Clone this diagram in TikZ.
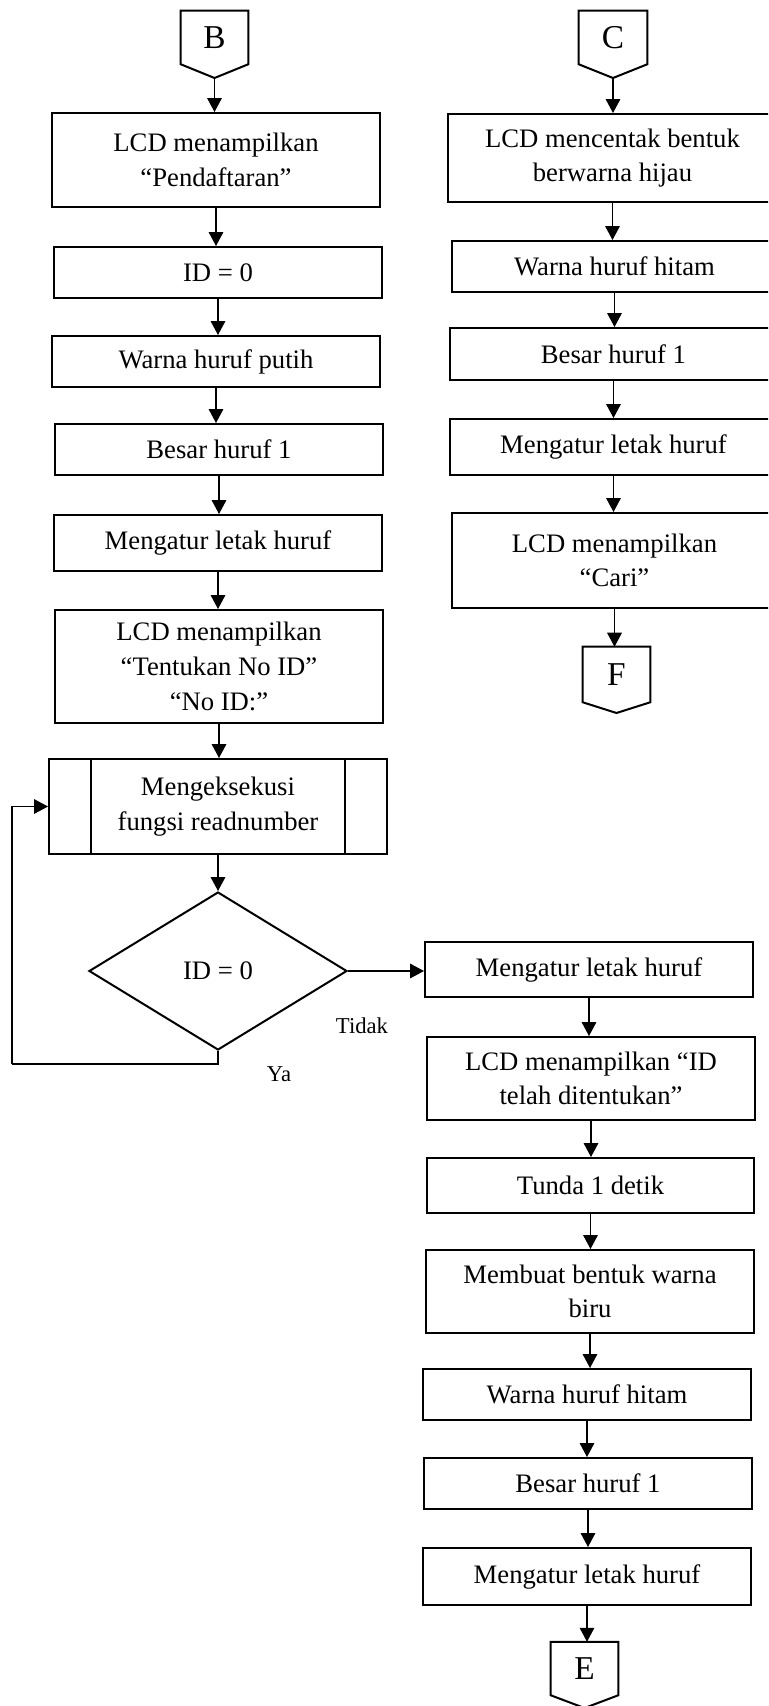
\documentclass[tikz,border=0pt]{standalone}
\usepackage{fontspec}
\setmainfont{Liberation Serif}
\usetikzlibrary{calc,shapes.geometric,arrows.meta}

\tikzset{
  every picture/.style={x=0.75pt,y=-0.75pt},
  sz/.style 2 args={minimum width=#1*0.75pt,minimum height=#2*0.75pt},
  proc/.style={draw,rectangle,line width=1.5pt,inner sep=0pt,align=center,
    font=\fontsize{20}{26}\selectfont},
  decision/.style={draw,diamond,line width=1.5pt,inner sep=0pt,
    minimum width=193.5pt,minimum height=118.5pt,
    font=\fontsize{20}{26}\selectfont},
  conntext/.style={rectangle,inner sep=0pt,font=\fontsize{25}{28}\selectfont},
  connline/.style={line width=1.5pt,line join=miter},
  flow/.style={line width=0.9pt,-{Triangle[length=10.5pt,width=11pt]}},
  loopline/.style={line width=0.8pt},
  lbl/.style={inner sep=0pt,anchor=base,font=\fontsize{17}{20}\selectfont},
}

\begin{document}
\begin{tikzpicture}
\useasboundingbox (0,0) rectangle (768,1706);
\clip (0,0) rectangle (768,1706);

% ---------- off-page connectors ----------
\node[conntext,sz={67}{53}] (B) at (214.5,37.5) {B};
\coordinate (Bp) at (214.5,78);
\draw[connline] (B.north west) -- (B.north east) -- (B.south east) -- (Bp) -- (B.south west) -- cycle;

\node[conntext,sz={68}{53}] (C) at (613,37.5) {C};
\coordinate (Cp) at (613,78);
\draw[connline] (C.north west) -- (C.north east) -- (C.south east) -- (Cp) -- (C.south west) -- cycle;

\node[conntext,sz={67}{55}] (F) at (616.5,674.5) {F};
\coordinate (Fp) at (616.5,713);
\draw[connline] (F.north west) -- (F.north east) -- (F.south east) -- (Fp) -- (F.south west) -- cycle;

\node[conntext,sz={67}{53}] (E) at (584.5,1668.5) {E};
\coordinate (Ep) at (584.5,1708);
\draw[connline] (E.north west) -- (E.north east) -- (E.south east) -- (Ep) -- (E.south west) -- cycle;

% ---------- left column ----------
\node[proc,sz={328}{94}]  (L1) at (216,160)   {LCD menampilkan\\“Pendaftaran”};
\node[proc,sz={328}{51}]  (L2) at (218,272.5) {ID = 0};
\node[proc,sz={328}{51}]  (L3) at (216,361.5) {Warna huruf putih};
\node[proc,sz={328}{51}]  (L4) at (219,449.5) {Besar huruf 1};
\node[proc,sz={328}{56}]  (L5) at (218,543)   {Mengatur letak huruf};
\node[proc,sz={328}{113}] (L6) at (219,666.5) {LCD menampilkan\\“Tentukan No ID”\\“No ID:”};
\node[proc,sz={338}{95}]  (P)  at (218,806.5) {Mengeksekusi\\fungsi readnumber};
\draw[line width=1.5pt] ($(P.north west)+(43,0)$) -- ($(P.south west)+(43,0)$);
\draw[line width=1.5pt] ($(P.north east)+(-43,0)$) -- ($(P.south east)+(-43,0)$);
\node[decision] (D) at (218,971) {ID = 0};

% ---------- right column, top ----------
\node[proc,sz={329}{88}] (C1) at (612.5,158)   {LCD mencentak bentuk\\berwarna hijau};
\node[proc,sz={325}{51}] (C2) at (614.5,266.5) {Warna huruf hitam};
\node[proc,sz={327}{52}] (C3) at (613.5,354)   {Besar huruf 1};
\node[proc,sz={327}{56}] (C4) at (613.5,447)   {Mengatur letak huruf};
\node[proc,sz={325}{95}] (C5) at (614.5,560.5) {LCD menampilkan\\“Cari”};

% ---------- right column, bottom ----------
\node[proc,sz={328}{55}] (R1) at (589,969.5)  {Mengatur letak huruf};
\node[proc,sz={328}{83}] (R2) at (591,1078.5) {LCD menampilkan “ID\\telah ditentukan”};
\node[proc,sz={327}{55}] (R3) at (590.5,1185.5) {Tunda 1 detik};
\node[proc,sz={328}{83}] (R4) at (590,1291.5) {Membuat bentuk warna\\biru};
\node[proc,sz={328}{51}] (R5) at (587,1394.5) {Warna huruf hitam};
\node[proc,sz={328}{51}] (R6) at (588,1483.5) {Besar huruf 1};
\node[proc,sz={328}{57}] (R7) at (587,1576.5) {Mengatur letak huruf};

% ---------- flow arrows ----------
\draw[flow] (Bp) -- (Bp |- L1.north);
\foreach \a/\b in {L1/L2,L2/L3,L3/L4,L4/L5,L5/L6,L6/P,P/D,
                   C1/C2,C2/C3,C3/C4,C4/C5,
                   R1/R2,R2/R3,R3/R4,R4/R5,R5/R6,R6/R7}
  \draw[flow] (\a.south) -- (\a.south |- \b.north);
\draw[flow] (Cp) -- (Cp |- C1.north);
\draw[flow] (C5.south) -- (C5.south |- F.north);
\draw[flow] (R7.south) -- (R7.south |- E.north);

% decision branches
\draw[flow] (D.east) -- (D.east -| R1.west);
\coordinate (loopA) at (218,1064);
\coordinate (loopB) at (12,1064);
\draw[loopline] (D.south) -- (loopA) -- (loopB);
\draw[loopline,-{Triangle[length=10.5pt,width=11pt]}] (loopB) -- (loopB |- P.west) -- (P.west);

\node[lbl] (tidak) at (362,1033) {Tidak};
\node[lbl] (ya) at (279,1081) {Ya};
\end{tikzpicture}
\end{document}
